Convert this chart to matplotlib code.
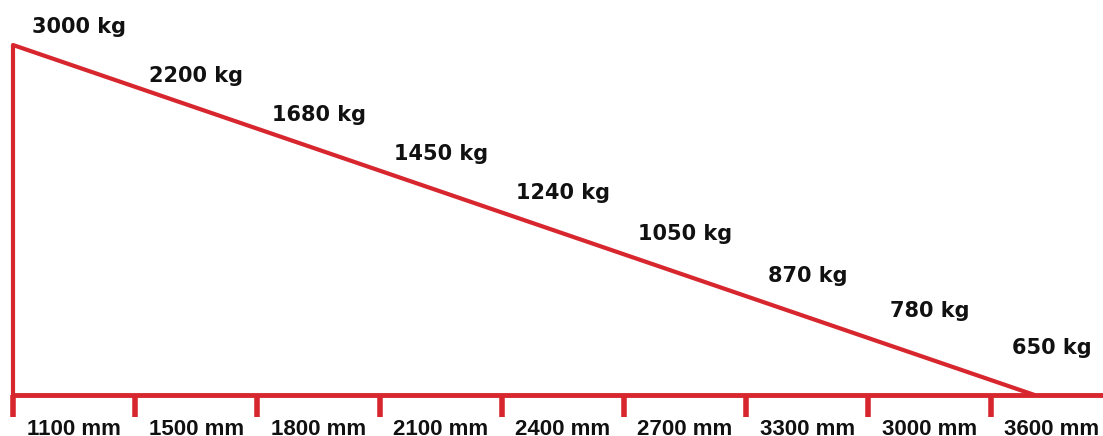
import matplotlib.pyplot as plt

# values
loads = ["3000 kg", "2200 kg", "1680 kg", "1450 kg", "1240 kg",
         "1050 kg", "870 kg", "780 kg", "650 kg"]
lengths = ["1100 mm", "1500 mm", "1800 mm", "2100 mm", "2400 mm",
           "2700 mm", "3300 mm", "3000 mm", "3600 mm"]

# baseline of each load label, in pixels from the top (layout only)
load_base = [33, 82, 121, 160, 199, 240, 282, 317, 354]

red = "#d7262e"
W, H = 1103, 436
base_y = 395

fig = plt.figure(figsize=(W / 100, H / 100), dpi=100)
ax = fig.add_axes([0, 0, 1, 1])
# x in segment units (one segment per length), y in pixels above the base line
seg = 122.2
ax.set_xlim(-13 / seg, (W - 13) / seg)
ax.set_ylim(-(H - base_y), base_y)
ax.axis("off")

n = len(lengths)
top = 350
end_x = 8.36

# frame: vertical post, base line, slope
ax.plot([0, 0], [0, top], color=red, lw=3, solid_capstyle="butt")
ax.plot([0, (W - 13) / seg + 1], [0, 0], color=red, lw=3.5, solid_capstyle="butt")
ax.plot([0, end_x], [top, 0], color=red, lw=3, solid_capstyle="round")

# tick marks between length labels
for i in range(n):
    ax.plot([i, i], [0, -22], color=red, lw=4, solid_capstyle="butt")

mm_font = dict(family="Liberation Sans", fontsize=16, fontweight="bold", color="#111111")
kg_font = dict(family="DejaVu Sans", fontsize=15, fontweight="bold", color="#111111")

for i, t in enumerate(lengths):
    ax.text(i + 0.5, base_y - 435, t, ha="center", va="baseline", **mm_font)

for i, t in enumerate(loads):
    dx = 0.04 if i == 0 else 0
    ax.text(i + 0.5 + dx, base_y - load_base[i], t, ha="center", va="baseline", **kg_font)

fig.savefig("out.png", dpi=100)
